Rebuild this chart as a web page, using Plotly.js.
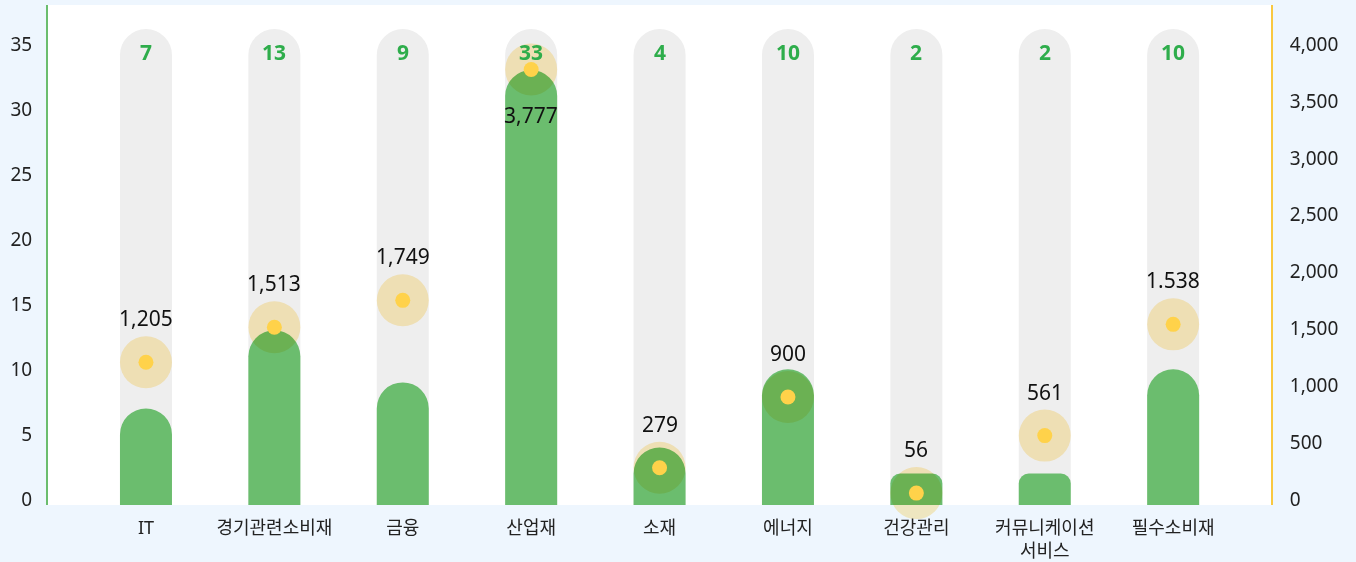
<!DOCTYPE html>
<html>
<head>
<meta charset="utf-8">
<script src="https://cdn.plot.ly/plotly-3.0.1.min.js"></script>
<style>
  html, body { margin: 0; padding: 0; background: #EEF6FE; }
  #chart { width: 1356px; height: 562px; }
  .tracehalo .points path { mix-blend-mode: multiply; }
</style>
</head>
<body>
<div id="chart"></div>
<script>
// ---- data ----
const categories = ['IT', '경기관련소비재', '금융', '산업재', '소재', '에너지', '건강관리', '커뮤니케이션서비스', '필수소비재'];
const tickLabels = ['IT', '경기관련소비재', '금융', '산업재', '소재', '에너지', '건강관리', '커뮤니케이션<br>서비스', '필수소비재'];
const counts = [7, 13, 9, 33, 4, 10, 2, 2, 10];
const values = [1205, 1513, 1749, 3777, 279, 900, 56, 561, 1538];
const valueLabels = ['1,205', '1,513', '1,749', '3,777', '279', '900', '56', '561', '1.538'];

// ---- styling constants ----
const LEFT_MIN = -0.423, LEFT_MAX = 38.0;   // visible left scale (0 sits a few px above the plot floor)
const SCALE2 = 4000 / 35;                   // right scale / left scale
const BG_TOP = 36.15;
const BAR_W = 0.405;
const GREEN = '#6BBD6E';
const FONT = '"Noto Sans", "Noto Sans CJK KR", sans-serif';
const SHORT = 3; // bars below this get a smaller corner radius
// bars are drawn on hidden axes whose zero is the plot floor, so they rise from the floor
const barLen = v => v - LEFT_MIN;
const barRange = [0, LEFT_MAX - LEFT_MIN];

const anchorTrace = { type: 'scatter', mode: 'markers', x: [], y: [], hoverinfo: 'skip', xaxis: 'x', yaxis: 'y' };
const bgBars = {
  type: 'bar', x: categories, y: categories.map(() => barLen(BG_TOP)),
  width: BAR_W, marker: { color: '#EEEEEE', cornerradius: '50%' },
  hoverinfo: 'skip', yaxis: 'y2'
};
const countBars = {
  type: 'bar', x: categories, y: counts.map(v => v >= SHORT ? barLen(v) : null),
  width: BAR_W, marker: { color: GREEN, cornerradius: '50%' },
  yaxis: 'y3'
};
const countBarsShort = {
  type: 'bar', x: categories, y: counts.map(v => v < SHORT ? barLen(v) : null),
  width: BAR_W, marker: { color: GREEN, cornerradius: 10 },
  yaxis: 'y3'
};
const halo = {
  type: 'scatter', mode: 'markers', x: categories, y: values, yaxis: 'y4', uid: 'halo',
  marker: { size: 52, color: '#FFEFC1', line: { width: 0 } }, cliponaxis: false, hoverinfo: 'skip'
};
const dots = {
  type: 'scatter', mode: 'markers', x: categories, y: values, yaxis: 'y4',
  marker: { size: 15, color: '#FFD24A', line: { width: 0 } }, cliponaxis: false
};

const annotations = [];
categories.forEach((c, i) => {
  const below = values[i] > 3500;
  annotations.push({
    x: c, y: values[i], xref: 'x', yref: 'y4', text: valueLabels[i], showarrow: false,
    xanchor: 'center', yanchor: 'middle',
    yshift: below ? -46 : 44, font: { family: FONT, size: 21, color: '#111111' }
  });
  annotations.push({
    x: c, y: 0.906, xref: 'x', yref: 'paper', text: '<b>' + counts[i] + '</b>', showarrow: false,
    xanchor: 'center', yanchor: 'middle',
    font: { family: FONT, size: 21, color: '#2EAD4B' }
  });
});

const hiddenAxis = { overlaying: 'y', range: barRange, visible: false, showgrid: false, zeroline: false };

const layout = {
  width: 1356, height: 562,
  margin: { l: 48, r: 85, t: 5, b: 57, pad: 0 },
  paper_bgcolor: '#EEF6FE', plot_bgcolor: '#FFFFFF',
  showlegend: false, barmode: 'overlay',
  font: { family: FONT, size: 17, color: '#333333' },
  xaxis: {
    type: 'category', range: [-0.763, 8.762], tickmode: 'array', tickvals: categories, ticktext: tickLabels,
    showgrid: false, zeroline: false, showline: false, ticks: '', ticklabelstandoff: 10,
    tickfont: { family: FONT, size: 18, color: '#222222' }
  },
  yaxis: {
    range: [LEFT_MIN, LEFT_MAX], dtick: 5, tick0: 0, showgrid: false, zeroline: false,
    showline: true, linecolor: GREEN, linewidth: 2, ticks: '', ticklabelstandoff: 10,
    tickfont: { family: FONT, size: 19, color: '#222222' }
  },
  yaxis2: Object.assign({}, hiddenAxis),
  yaxis3: Object.assign({}, hiddenAxis),
  yaxis4: {
    overlaying: 'y', side: 'right', range: [LEFT_MIN * SCALE2, LEFT_MAX * SCALE2], dtick: 500, tick0: 0, tickformat: ',d',
    showgrid: false, zeroline: false, showline: true, linecolor: '#F9C840', linewidth: 2,
    ticks: '', ticklabelstandoff: 13,
    tickfont: { family: FONT, size: 19, color: '#222222' }
  },
  annotations: annotations
};

Plotly.newPlot('chart', [anchorTrace, bgBars, countBars, countBarsShort, halo, dots], layout, { displayModeBar: false, staticPlot: true });
</script>
</body>
</html>
